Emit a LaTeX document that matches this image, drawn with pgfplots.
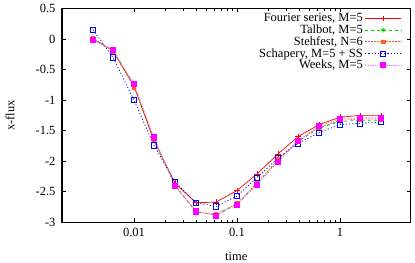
\documentclass[border=0pt]{standalone}
\usepackage{pgfplots}
\pgfplotsset{compat=1.18}
\usepackage{fontspec}
\setmainfont{Liberation Serif}
\usetikzlibrary{calc}
\definecolor{cF}{RGB}{255,0,0}
\definecolor{cT}{RGB}{0,205,0}
\definecolor{cS}{RGB}{255,96,32}
\definecolor{cC}{RGB}{0,0,255}
\definecolor{cW}{RGB}{255,0,255}
\begin{document}
\begin{tikzpicture}
\begin{axis}[
  scale only axis,
  width=348.7bp, height=213.8bp,
  xmode=log,
  xmin=0.002, xmax=4.86,
  ymin=-3, ymax=0.5,
  xtick={0.01,0.1,1},
  xticklabels={0.01,0.1,1},
  ytick={-3,-2.5,-2,-1.5,-1,-0.5,0,0.5},
  yticklabels={-3,-2.5,-2,-1.5,-1,-0.5,0,0.5},
  tick align=inside,
  major tick length=4bp,
  minor tick length=2.5bp,
  every tick/.style={black, line width=0.6pt},
  axis line style={line width=1.2pt},
  font=\fontsize{12.5bp}{14bp}\selectfont,
  xlabel={time},
  xlabel style={at={(axis description cs:0.5,-0.161)}, anchor=center},
  xticklabel style={yshift=-2bp},
  yticklabel style={xshift=-3bp},
  clip=false,
  legend plot pos=right,
  legend cell align=right,
  legend style={draw=none, fill=none, at={(1,1)}, anchor=north east,
    xshift=-6bp, yshift=-1bp, row sep=-2.5bp,
    /tikz/every even column/.append style={column sep=1.5bp},
    font=\fontsize{12.5bp}{14bp}\selectfont},
  legend image code/.code={
    \draw[mark repeat=2,mark phase=2] plot coordinates {(0bp,0bp) (18bp,0bp) (36bp,0bp)};
  },
  every axis plot/.append style={line width=0.7pt},
]
\addplot[cF, solid, mark=+, mark size=2.8bp] coordinates {
(0.004,0.0) (0.00625,-0.19) (0.01,-0.77) (0.015625,-1.66) (0.025,-2.36) (0.04,-2.68) (0.0625,-2.67) (0.1,-2.48) (0.15625,-2.21) (0.25,-1.88) (0.390625,-1.60) (0.625,-1.40) (1,-1.28) (1.5625,-1.25) (2.5,-1.25)};
\addlegendentry{Fourier series, M=5}
\addplot[cT, dashed, mark=asterisk, mark size=2.5bp, mark options={solid}] coordinates {
(0.004,0.01) (0.00625,-0.19) (0.01,-0.76) (0.015625,-1.64) (0.025,-2.40) (0.04,-2.83) (0.0625,-2.88) (0.1,-2.70) (0.15625,-2.37) (0.25,-1.98) (0.390625,-1.68) (0.625,-1.46) (1,-1.35) (1.5625,-1.33) (2.5,-1.33)};
\addlegendentry{Talbot, M=5}
\addplot[cS, dash pattern=on 1.5pt off 1.5pt, mark=square*, mark size=1.8bp, mark options={solid}] coordinates {
(0.004,0.02) (0.00625,-0.20) (0.01,-0.79) (0.015625,-1.65) (0.025,-2.39) (0.04,-2.82) (0.0625,-2.87) (0.1,-2.69) (0.15625,-2.36) (0.25,-1.97) (0.390625,-1.67) (0.625,-1.45) (1,-1.33) (1.5625,-1.31) (2.5,-1.31)};
\addlegendentry{Stehfest, N=6}
\addplot[cC, dash pattern=on 1.2pt off 2pt, mark=square, mark size=2.6bp, mark options={solid}] coordinates {
(0.004,0.15) (0.00625,-0.30) (0.01,-1.00) (0.015625,-1.74) (0.025,-2.34) (0.04,-2.68) (0.0625,-2.74) (0.1,-2.57) (0.15625,-2.27) (0.25,-1.95) (0.390625,-1.71) (0.625,-1.53) (1,-1.40) (1.5625,-1.38) (2.5,-1.36)};
\addlegendentry{Schapery, M=5 + SS}
\addplot[cW!60, dash pattern=on 1.2pt off 1.2pt, mark=square*, mark size=2.6bp, mark options={solid, fill=cW, draw=cW}] coordinates {
(0.004,-0.01) (0.00625,-0.18) (0.01,-0.73) (0.015625,-1.61) (0.025,-2.40) (0.04,-2.82) (0.0625,-2.89) (0.1,-2.71) (0.15625,-2.39) (0.25,-2.01) (0.390625,-1.67) (0.625,-1.42) (1,-1.31) (1.5625,-1.29) (2.5,-1.29)};
\addlegendentry{Weeks, M=5}
\node[rotate=90, anchor=center, font=\fontsize{12.5bp}{14bp}\selectfont] at (axis description cs:-0.149,0.5) {x-flux};
\end{axis}
\pgfresetboundingbox
\path[use as bounding box] ($(current axis.south west)+(-62bp,-40.7bp)$) rectangle ($(current axis.north east)+(4.3bp,8.5bp)$);
\end{tikzpicture}
\end{document}
